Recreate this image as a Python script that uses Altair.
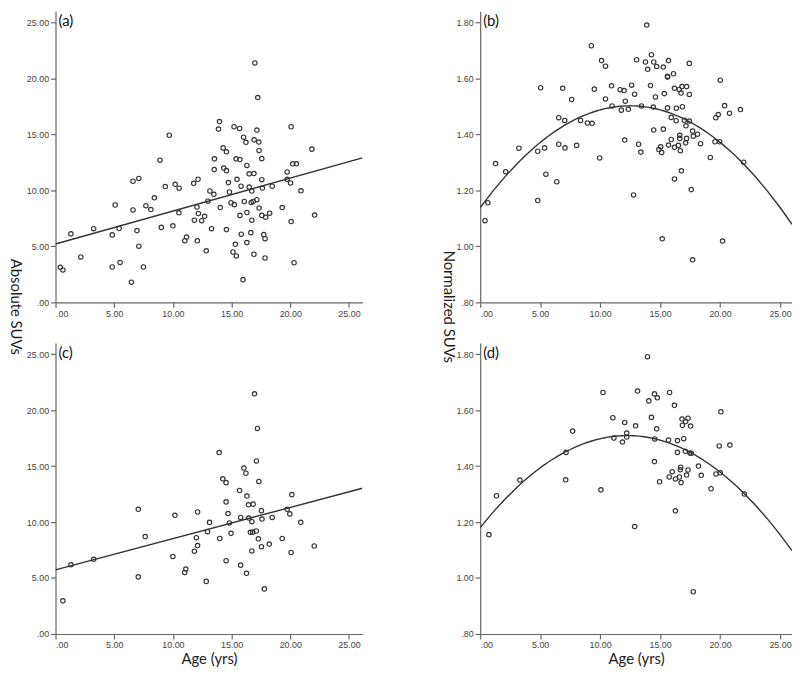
import altair as alt
import pandas as pd

# ---------------- data ----------------
A_AGE = [0.41, 0.63, 1.31, 2.15, 3.25, 4.83, 5.08, 4.83, 5.42, 5.5, 6.46, 6.6, 6.6, 7.1, 6.94, 7.1, 7.49, 7.7,
         8.12, 8.42, 8.9, 9.01, 9.35, 10.0, 10.19, 10.51, 10.53, 11.01, 11.16, 11.83, 11.77, 12.14, 12.05, 12.17,
         12.08, 9.69,
         13.54, 15.38, 15.71, 17.57, 13.52, 14.33, 14.56, 16.3, 16.5, 16.9, 15.46, 14.73, 15.8, 13.15, 13.49,
         14.81, 16.5, 16.72, 17.57, 17.62, 18.46, 19.73, 20.21, 20.52, 19.73, 20.02, 20.91, 12.98, 12.7, 12.45,
         14.03, 14.95, 15.23, 16.08, 16.67, 16.84, 17.15, 17.34, 15.71, 16.3, 16.72, 17.57, 17.9, 18.24, 19.31,
         20.07, 22.07, 13.29, 14.56, 15.82, 16.64, 17.74, 17.85, 12.84, 15.32, 16.3, 15.12, 15.4, 16.9, 17.85,
         20.32, 15.97,
         16.98, 17.23, 13.97, 13.88, 15.21, 15.68, 17.15, 20.07, 16.02, 16.22, 16.92, 17.32, 14.28, 14.56,
         17.34, 21.84]
A_SUV = [3.13, 2.9, 6.12, 4.06, 6.58, 6.03, 8.7, 3.16, 6.6, 3.57, 1.8, 8.26, 10.82, 11.07, 6.41, 5.02, 3.16, 8.64,
         8.29, 9.34, 12.7, 6.7, 10.35, 6.84, 10.55, 8.0, 10.2, 5.51, 5.83, 7.34, 10.64, 11.0, 8.52, 7.94, 5.5, 14.93,
         12.82, 12.82, 12.76, 12.84, 11.86, 12.0, 11.77, 12.23, 11.48, 11.51, 10.99, 10.7, 10.38, 9.95, 9.65,
         9.86, 10.3, 9.95, 10.96, 10.21, 10.38, 11.65, 12.38, 12.38, 10.99, 10.67, 9.97, 9.04, 7.69, 7.3, 8.47,
         8.9, 8.73, 9.02, 8.93, 9.02, 9.17, 8.43, 7.77, 8.03, 7.34, 7.77, 7.6, 7.97, 8.47, 7.22, 7.8, 6.58, 6.5,
         6.09, 6.23, 6.06, 5.69, 4.61, 5.19, 5.34, 4.5, 4.15, 4.3, 3.97, 3.54, 2.03,
         21.39, 18.3, 16.15, 15.48, 15.69, 15.54, 15.39, 15.69, 14.76, 14.3, 14.52, 14.32, 13.8, 13.45,
         13.57, 13.69]

B_AGE = [9.27, 5.04, 6.88, 9.52, 7.63, 6.55, 7.05, 8.37, 8.94, 9.33, 3.23, 4.8, 5.37, 6.55, 7.07, 8.04, 1.28,
         2.13, 0.64, 0.4, 5.48, 4.8, 6.39,
         13.89, 10.12, 10.45, 13.04, 13.78, 14.28, 14.47, 13.97, 14.72, 15.27, 15.7, 17.44, 15.62, 15.62, 16.12,
         20.02, 10.95, 11.67, 12.0, 12.63, 14.2, 12.88, 14.61, 15.35, 16.2, 16.59, 16.83, 17.21, 16.75, 17.44,
         10.45, 12.1, 11.0, 11.77, 12.35, 13.45, 14.44, 15.62, 16.36, 16.86, 15.93, 16.34, 17.02, 17.44, 17.16,
         19.64, 19.85, 20.38, 20.79, 21.7, 14.47, 15.27, 17.71, 18.12, 17.77, 15.93, 16.64, 16.64, 17.21, 18.37,
         19.58, 19.97, 12.05, 13.21, 13.4, 15.7, 16.2, 16.53, 17.13, 14.9, 15.13, 15.05, 16.69, 21.97, 9.96,
         19.19, 16.78, 16.2, 17.6, 12.79, 15.18, 20.21, 17.71]
B_NSUV = [1.717, 1.567, 1.565, 1.562, 1.525, 1.46, 1.45, 1.45, 1.441, 1.44, 1.351, 1.34, 1.352, 1.365, 1.352,
          1.361, 1.296, 1.267, 1.156, 1.092, 1.258, 1.164, 1.231,
          1.791, 1.664, 1.644, 1.667, 1.659, 1.685, 1.659, 1.633, 1.643, 1.641, 1.664, 1.654, 1.608, 1.605,
          1.617, 1.594, 1.574, 1.56, 1.557, 1.576, 1.575, 1.544, 1.534, 1.546, 1.565, 1.561, 1.571, 1.571,
          1.548, 1.543, 1.527, 1.519, 1.502, 1.487, 1.49, 1.502, 1.498, 1.495, 1.494, 1.499, 1.461, 1.449,
          1.451, 1.448, 1.431, 1.46, 1.471, 1.503, 1.476, 1.489, 1.416, 1.419, 1.412, 1.401, 1.394, 1.382,
          1.397, 1.386, 1.386, 1.367, 1.374, 1.374, 1.38, 1.365, 1.337, 1.362, 1.354, 1.361, 1.37, 1.346,
          1.336, 1.356, 1.342, 1.301, 1.316, 1.318, 1.27, 1.241, 1.203, 1.184, 1.027, 1.019, 0.952]

C_AGE = [0.63, 1.31, 3.25, 7.05, 7.05, 7.64, 10.0, 10.17, 11.1, 11.0, 11.83, 12.0, 12.1, 12.1,
         16.95, 17.2, 13.94, 16.05, 16.22, 17.11, 14.25, 14.53, 17.32, 15.68, 16.3, 14.53, 16.44, 16.84, 20.13,
         14.7, 15.77, 17.54, 19.73, 19.96, 13.12, 14.81, 16.47, 16.73, 17.59, 18.46, 20.89, 12.95, 13.99, 14.95,
         16.6, 16.8, 17.1, 17.28, 17.54, 18.21, 19.31, 16.72, 20.07, 22.04, 14.53, 15.77, 16.27, 12.84, 17.79]
C_SUV = [2.96, 6.18, 6.67, 11.14, 5.1, 8.7, 6.93, 10.6, 5.8, 5.5, 7.4, 8.6, 7.9, 10.9,
         21.46, 18.36, 16.21, 14.82, 14.36, 15.46, 13.86, 13.52, 13.63, 12.82, 12.32, 11.8, 11.54, 11.6, 12.45,
         10.76, 10.41, 11.02, 11.14, 10.73, 9.97, 9.92, 10.36, 10.03, 10.27, 10.41, 9.98, 9.14, 8.53, 8.99,
         9.08, 9.1, 9.2, 8.5, 7.8, 8.03, 8.53, 7.42, 7.28, 7.86, 6.55, 6.15, 5.42, 4.7, 4.03]

D_AGE = [7.71, 7.16, 7.13, 3.31, 1.36, 0.73,
         13.95, 10.24, 13.12, 14.06, 14.53, 14.77, 15.79, 16.2, 20.07, 11.06, 12.05, 12.96, 14.28, 14.72, 12.22,
         12.22, 11.15, 11.86, 14.55, 15.7, 16.45, 16.97, 16.83, 17.33, 16.86, 17.54, 17.13, 16.45, 17.11, 17.49,
         17.6, 19.93, 20.82, 14.53, 16.01, 15.76, 16.28, 16.61, 16.72, 16.69, 17.33, 17.21, 16.75, 14.96, 18.2,
         18.43, 19.66, 20.02, 19.25, 22.03, 10.07, 16.28, 12.88, 17.77]
D_NSUV = [1.525, 1.449, 1.351, 1.35, 1.294, 1.155,
          1.791, 1.663, 1.668, 1.633, 1.658, 1.644, 1.663, 1.617, 1.594, 1.573, 1.556, 1.544, 1.574, 1.533,
          1.518, 1.504, 1.5, 1.486, 1.497, 1.493, 1.491, 1.498, 1.568, 1.571, 1.546, 1.543, 1.559, 1.449, 1.453,
          1.447, 1.446, 1.472, 1.475, 1.416, 1.38, 1.361, 1.354, 1.361, 1.396, 1.387, 1.386, 1.368, 1.341,
          1.344, 1.4, 1.367, 1.372, 1.376, 1.319, 1.3, 1.315, 1.24, 1.184, 0.951]

PANEL_TAGS = ["(a)", "(b)", "(c)", "(d)"]
X_TICKS = [0, 5, 10, 15, 20, 25]
ABS_TICKS = [0, 5, 10, 15, 20, 25]
NORM_TICKS = [0.8, 1.0, 1.2, 1.4, 1.6, 1.8]
Y_TITLES = ["Absolute SUVs", "Normalized SUVs"]
X_TITLE = "Age (yrs)"

# ---------------- chart ----------------
LABEL_EXPR = ("datum.value < 1 ? substring(format(datum.value, '.2f'), 1) "
              ": format(datum.value, '.2f')")
PANEL_H = 294
INK = "#333333"


def panel(ages, vals, tag, xmax, width, ydom, yticks, ytitle, title_x, xtitle, poly):
    df = pd.DataFrame({"age": ages, "v": vals})
    if xtitle:
        x_axis = alt.Axis(values=X_TICKS, labelExpr=LABEL_EXPR, title=xtitle, titlePadding=2)
    else:
        x_axis = alt.Axis(values=X_TICKS, labelExpr=LABEL_EXPR, title=None)
    if ytitle:
        y_axis = alt.Axis(values=yticks, labelExpr=LABEL_EXPR, title=ytitle, titleAngle=90,
                          titleX=title_x, titleY=PANEL_H + 4, titleBaseline="top", titleAlign="center")
    else:
        y_axis = alt.Axis(values=yticks, labelExpr=LABEL_EXPR, title=None)
    x = alt.X("age:Q", scale=alt.Scale(domain=[0, xmax], nice=False, zero=False), axis=x_axis)
    y = alt.Y("v:Q", scale=alt.Scale(domain=ydom, nice=False, zero=False), axis=y_axis)

    pts = alt.Chart(df).mark_point(shape="circle", filled=False, size=20, strokeWidth=1.15,
                                   color=INK, opacity=1).encode(x=x, y=y)
    if poly:
        reg = alt.Chart(df).transform_regression("age", "v", method="poly", order=2, extent=[0, xmax])
    else:
        reg = alt.Chart(df).transform_regression("age", "v", method="linear", extent=[0, xmax])
    line = reg.mark_line(color="#333333", strokeWidth=1.4, clip=True).encode(x=x, y=y)
    lab = alt.Chart(pd.DataFrame({"t": [tag]})).mark_text(
        align="left", baseline="middle", font="Lato", fontSize=15, color="#111111"
    ).encode(x=alt.value(3), y=alt.value(10), text="t:N")
    return alt.layer(pts, line, lab).properties(width=width, height=PANEL_H)


pa = panel(A_AGE, A_SUV, PANEL_TAGS[0], 26.14, 310, [0, 26], ABS_TICKS, Y_TITLES[0], -33, None, False)
pb = panel(B_AGE, B_NSUV, PANEL_TAGS[1], 26.0, 315, [0.8, 1.84], NORM_TICKS, Y_TITLES[1], -25, None, True)
pc = panel(C_AGE, C_SUV, PANEL_TAGS[2], 26.14, 310, [0, 26], ABS_TICKS, None, 0, X_TITLE, False)
pd_ = panel(D_AGE, D_NSUV, PANEL_TAGS[3], 26.0, 315, [0.8, 1.84], NORM_TICKS, None, 0, X_TITLE, True)

chart = alt.concat(
    pa, pb, pc, pd_, columns=2,
    spacing={"row": 41, "column": 119}, bounds="flush", align="each"
).properties(padding=0).configure_view(strokeWidth=0).configure_axis(
    grid=False, domainColor="#666666", tickColor="#666666", domainWidth=1.2, tickWidth=1.2,
    tickSize=5, labelFont="Liberation Sans", labelFontSize=9, labelColor="#444444", labelPadding=2,
    titleFont="Lato", titleFontSize=15, titleFontWeight="normal", titleColor="#222222"
)

chart.save("out.html", embed_options={"renderer": "svg", "actions": False})
